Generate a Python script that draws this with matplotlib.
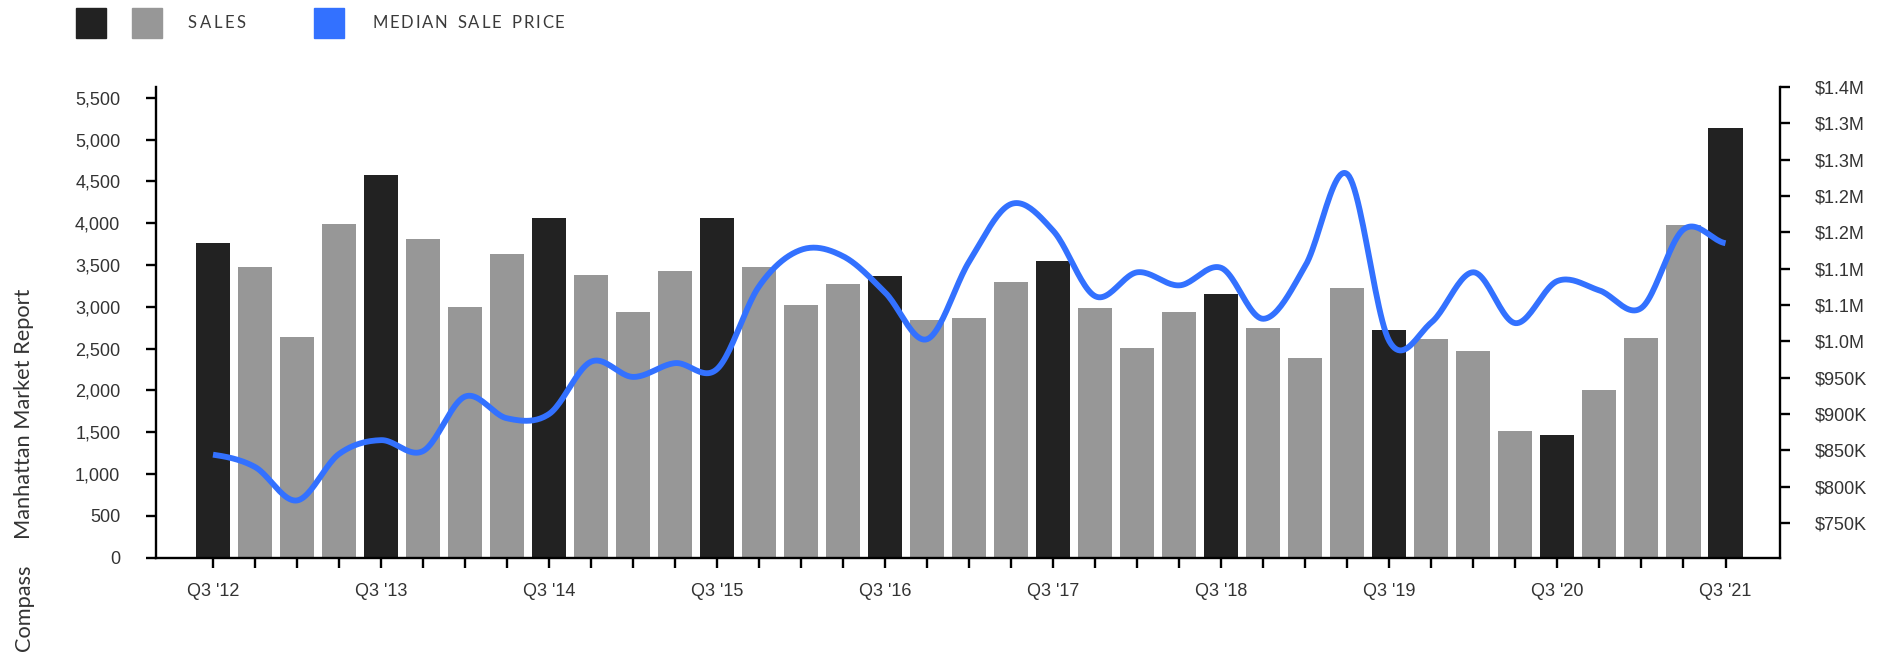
import numpy as np
import matplotlib
matplotlib.use("Agg")
import matplotlib.pyplot as plt
from matplotlib.patches import Rectangle
from matplotlib.ticker import FuncFormatter, FixedLocator

# quarterly Manhattan sales and median sale price (thousands of $)
quarters = ["Q3 '12", "Q4 '12", "Q1 '13", "Q2 '13", "Q3 '13", "Q4 '13", "Q1 '14", "Q2 '14",
            "Q3 '14", "Q4 '14", "Q1 '15", "Q2 '15", "Q3 '15", "Q4 '15", "Q1 '16", "Q2 '16",
            "Q3 '16", "Q4 '16", "Q1 '17", "Q2 '17", "Q3 '17", "Q4 '17", "Q1 '18", "Q2 '18",
            "Q3 '18", "Q4 '18", "Q1 '19", "Q2 '19", "Q3 '19", "Q4 '19", "Q1 '20", "Q2 '20",
            "Q3 '20", "Q4 '20", "Q1 '21", "Q2 '21", "Q3 '21"]
sales = [3760, 3470, 2635, 3990, 4580, 3815, 2995, 3630,
         4060, 3385, 2935, 3430, 4060, 3470, 3025, 3270,
         3370, 2840, 2865, 3300, 3545, 2980, 2505, 2935,
         3150, 2750, 2390, 3225, 2720, 2620, 2475, 1510,
         1470, 2000, 2625, 3975, 5140]
median_price = [844, 827, 781, 845, 864, 849, 924, 894,
                900, 972, 951, 970, 962, 1076, 1126, 1117,
                1067, 1003, 1110, 1189, 1152, 1062, 1095, 1077,
                1101, 1031, 1104, 1230, 1000, 1026, 1095, 1025,
                1083, 1070, 1046, 1154, 1135]
label_every = 4
sales_ticks = list(range(0, 5501, 500))
price_ticks = list(range(750, 1351, 50))

BLACK = "#222222"
GRAY = "#979797"
BLUE = "#3371ff"
TEXT = "#333333"
W, H = 1891, 652
LABEL_FONT = ["Lato", "DejaVu Sans"]


def catmull_rom(y, n=24):
    # uniform cardinal spline through the points, ends duplicated
    p = np.r_[y[0], y, y[-1]].astype(float)
    t = np.linspace(0, 1, n, endpoint=False)
    xs, ys = [], []
    for i in range(len(y) - 1):
        p0, p1, p2, p3 = p[i], p[i + 1], p[i + 2], p[i + 3]
        seg = 0.5 * (2 * p1 + (p2 - p0) * t + (2 * p0 - 5 * p1 + 4 * p2 - p3) * t ** 2
                     + (3 * p1 - p0 - 3 * p2 + p3) * t ** 3)
        xs.append(i + t)
        ys.append(seg)
    xs.append([len(y) - 1])
    ys.append([y[-1]])
    return np.concatenate(xs), np.concatenate(ys)


def tracked_text(fig, x, y, s, gap, **kw):
    # draw text letter by letter so it gets wide letter spacing
    r = fig.canvas.get_renderer()
    for ch in s:
        if ch == " ":
            x += 6 + gap
            continue
        t = fig.text(x / W, 1 - y / H, ch, va="center", ha="left", **kw)
        x += t.get_window_extent(r).width + gap


def price_fmt(v, pos):
    if v >= 1000:
        return "${:.1f}M".format(np.floor(v / 100 + 0.5) / 10)
    return "${:.0f}K".format(v)


plt.rcParams["font.family"] = ["Liberation Sans", "DejaVu Sans"]

fig = plt.figure(figsize=(W / 100, H / 100), dpi=100)
ax = fig.add_axes([155.7 / W, 1 - 557.7 / H, (1780 - 155.7) / W, (557.7 - 87) / H])

x = np.arange(len(quarters))
colors = [BLACK if i % label_every == 0 else GRAY for i in x]
ax.bar(x, sales, width=0.81, color=colors, zorder=2)
ax.set_xlim(-1.364, len(quarters) - 1 + 1.297)
ax.set_ylim(0, 5628)

ax2 = ax.twinx()
sx, sy = catmull_rom(median_price)
ax2.plot(sx, sy, color=BLUE, lw=4.2, solid_capstyle="butt", solid_joinstyle="round")
ax2.set_ylim(702.2, 1350)

for a in (ax, ax2):
    for side in ("top", "left", "right", "bottom"):
        a.spines[side].set_visible(False)
    a.tick_params(width=1.7, length=7, color="black", labelcolor=TEXT, labelsize=13)
ax.spines["left"].set_visible(True)
ax.spines["bottom"].set_visible(True)
ax2.spines["right"].set_visible(True)
for sp in (ax.spines["left"], ax.spines["bottom"], ax2.spines["right"]):
    sp.set_linewidth(1.7)
    sp.set_color("black")

ax.set_xticks(x)
ax.set_xticklabels([q if i % label_every == 0 else "" for i, q in enumerate(quarters)])
ax.tick_params(axis="x", pad=11)
ax.yaxis.set_major_locator(FixedLocator(sales_ticks))
ax.yaxis.set_major_formatter(FuncFormatter(lambda v, p: "{:,.0f}".format(v)))
ax.tick_params(axis="y", pad=18.5)
ax2.yaxis.set_major_locator(FixedLocator(price_ticks))
ax2.yaxis.set_major_formatter(FuncFormatter(price_fmt))
ax2.tick_params(axis="y", pad=18)

# legend across the top
for x0, c in ((76, BLACK), (132, GRAY), (314, BLUE)):
    fig.patches.append(Rectangle((x0 / W, 1 - 38 / H), 30 / W, 30 / H,
                                 transform=fig.transFigure, color=c))
tracked_text(fig, 188, 23, "SALES", 2.6, fontsize=12, color="#3a3a3a", family=LABEL_FONT)
tracked_text(fig, 372, 23, "MEDIAN SALE PRICE", 1.9, fontsize=12, color="#3a3a3a", family=LABEL_FONT)

# vertical source label
fig.text(24 / W, 1 - 651 / H, "Compass", rotation=90, ha="center", va="bottom",
         fontsize=15.7, color=TEXT, family=LABEL_FONT)
fig.text(24 / W, 1 - 539 / H, "Manhattan Market Report", rotation=90, ha="center", va="bottom",
         fontsize=15.7, color=TEXT, family=LABEL_FONT)

fig.savefig("out.png", dpi=100)
